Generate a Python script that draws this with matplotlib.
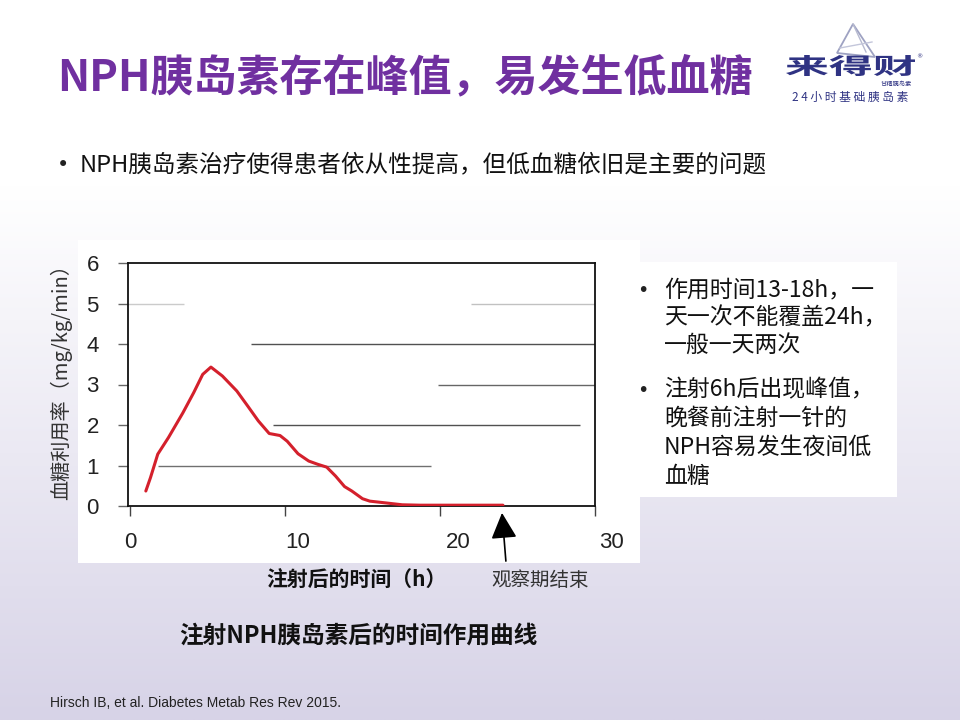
import numpy as np
import matplotlib
matplotlib.use("Agg")
import matplotlib.pyplot as plt
from matplotlib.patches import Rectangle, Polygon, PathPatch
from matplotlib.transforms import ScaledTranslation, Affine2D
from matplotlib.textpath import TextPath
from matplotlib.font_manager import FontProperties

plt.rcParams['font.family'] = ['Noto Sans CJK SC', 'DejaVu Sans']

# ---------------- data ----------------
hours = [1.02, 1.32, 1.79, 2.48, 3.41, 4.11, 4.69, 5.22, 5.96, 6.89, 7.59, 8.28,
         8.98, 9.68, 10.14, 10.84, 11.53, 12.11, 12.69, 13.26, 13.84, 14.31,
         15.0, 15.47, 16.41, 17.56, 18.72, 19.88, 24.06]
rate = [0.37, 0.70, 1.28, 1.69, 2.30, 2.80, 3.25, 3.43, 3.21, 2.84, 2.47, 2.10,
        1.79, 1.74, 1.60, 1.29, 1.11, 1.03, 0.96, 0.74, 0.48, 0.37,
        0.18, 0.12, 0.08, 0.03, 0.02, 0.02, 0.02]
x_ticks = [0, 10, 20, 30]
x_tick_labels = ['0', '10', '20', '30']
y_ticks = [0, 1, 2, 3, 4, 5, 6]
y_tick_labels = ['0', '1', '2', '3', '4', '5', '6']
obs_end = 24.0

title = 'NPH胰岛素存在峰值，易发生低血糖'
subtitle = 'NPH胰岛素治疗使得患者依从性提高，但低血糖依旧是主要的问题'
y_label = '血糖利用率（mg/kg/min）'
x_label = '注射后的时间（h）'
obs_label = '观察期结束'
caption = '注射NPH胰岛素后的时间作用曲线'
reference = 'Hirsch IB, et al. Diabetes Metab Res Rev 2015.'
bullet1 = ['作用时间13-18h，一', '天一次不能覆盖24h，', '一般一天两次']
bullet2 = ['注射6h后出现峰值，', '晚餐前注射一针的', 'NPH容易发生夜间低', '血糖']
logo_name = '来得财'
logo_sub = '甘精胰岛素'
logo_tag = '2 4 小 时 基 础 胰 岛 素'

# faded partial gridlines of the scanned chart (style)
grid_segments = [(5, -0.1, 3.5, 0.25), (5, 22, 30, 0.3), (4, 7.8, 30, 0.85),
                 (3, 19.9, 30, 0.75), (2, 9.2, 29, 0.85), (1, 1.8, 19.4, 0.7)]

W, H = 960, 720
fig = plt.figure(figsize=(9.6, 7.2), dpi=100)

# ---------------- background ----------------
bg = fig.add_axes([0, 0, 1, 1], zorder=-10)
bg.set_xlim(0, 1)
bg.set_ylim(0, 1)
bg.axis('off')
rows = np.linspace(0, 1, 400)  # top -> bottom
t = np.clip((rows - 0.26) / 0.74, 0, 1)
top_c = np.array([1.0, 1.0, 1.0])
bot_c = np.array([0xd7, 0xd3, 0xe7]) / 255.0
grad = top_c[None, :] * (1 - t[:, None]) + bot_c[None, :] * t[:, None]
grad = np.repeat(grad[:, None, :], 2, axis=1)
bg.imshow(grad, extent=[0, 1, 0, 1], aspect='auto', origin='upper', zorder=0)


def px(x, y):
    return x / W, 1 - y / H


# chart image white area
bg.add_patch(Rectangle(px(78, 563), 562 / W, 323 / H, facecolor='white',
                       edgecolor='none', zorder=1))
# right text box
bg.add_patch(Rectangle(px(600, 497), 297 / W, 235 / H, facecolor='white',
                       edgecolor='none', zorder=2))

# logo triangle
navy = '#2f3383'
tri = [px(853, 24), px(837, 53), px(875, 57)]
bg.add_patch(Polygon(tri, closed=True, fill=False, edgecolor='#9ea2c2', lw=1.3, zorder=3))
bg.plot([tri[0][0], px(866, 52)[0]], [tri[0][1], px(866, 52)[1]], color='#b7bad0',
        lw=1, zorder=3)
bg.plot([px(840, 48)[0], px(872, 42)[0]], [px(840, 48)[1], px(872, 42)[1]],
        color='#c3c6da', lw=1, zorder=3)

# stretched logo wordmark
fp = FontProperties(family='Noto Sans CJK SC', weight='bold')
tp = TextPath((0, 0), logo_name, size=1, prop=fp)
ext = tp.get_extents()
tr = (Affine2D().translate(-ext.x0, -ext.y0)
      .scale((129 / W) / ext.width, (21 / H) / ext.height)
      .translate(786 / W, 1 - 76 / H))
bg.add_patch(PathPatch(tr.transform_path(tp), facecolor=navy, edgecolor='none', zorder=4))

# ---------------- chart ----------------
ax = fig.add_axes([128 / W, 1 - 506 / H, 467 / W, 243 / H])
ax.set_facecolor('none')
ax.set_xlim(-0.13, 30)
ax.set_ylim(0, 6)

for yv, x0, x1, a in grid_segments:
    ax.hlines(yv, x0, x1, color='#333333', lw=1.0, alpha=a, zorder=1)

ax.plot(hours, rate, color='#d4202c', lw=2.2, zorder=3, solid_capstyle='round')

for s in ax.spines.values():
    s.set_color('#111111')
    s.set_linewidth(1.3)

ax.set_xticks(x_ticks)
ax.set_xticklabels(x_tick_labels, family='Liberation Sans', fontsize=16, color='#222222')
ax.set_yticks(y_ticks)
ax.set_yticklabels(y_tick_labels, family='Liberation Sans', fontsize=16, color='#222222')
ax.tick_params(axis='x', direction='out', length=7, width=1, color='#444444', pad=12)
ax.tick_params(axis='y', direction='out', length=7, width=1, color='#666666', pad=14)

# scanned label offsets
for lab, dx in zip(ax.get_xticklabels(), [0, 13, 18, 16]):
    lab.set_transform(lab.get_transform() + ScaledTranslation(dx / 100, 0, fig.dpi_scale_trans))

ax.annotate('', xy=(obs_end, -0.17), xytext=(obs_end + 0.25, -1.36),
            xycoords='data', textcoords='data', annotation_clip=False,
            arrowprops=dict(arrowstyle='-|>,head_length=0.8,head_width=0.4',
                            mutation_scale=20, color='black', lw=1.2,
                            shrinkA=0, shrinkB=0))

# ---------------- texts ----------------
fig.text(*px(57, 77), title, fontsize=31, fontweight='heavy', color='#7030a0',
         ha='left', va='center')
fig.text(*px(57, 165), '•', fontsize=15, color='#222222', ha='left', va='center',
         family='DejaVu Sans')
fig.text(*px(80, 165), subtitle, fontsize=17, color='#111111', ha='left', va='center')

fig.text(*px(61, 377), y_label, rotation=90, fontsize=14.5, color='#333333',
         ha='center', va='center')
fig.text(*px(356, 580), x_label, fontsize=15, fontweight='bold', color='#111111',
         ha='center', va='center')
fig.text(*px(540, 580), obs_label, fontsize=14, color='#333333',
         ha='center', va='center')
fig.text(*px(358, 636), caption, fontsize=17, fontweight='bold', color='#111111',
         ha='center', va='center')
fig.text(*px(50, 703), reference, fontsize=10, color='#222222', ha='left',
         va='center', family=['Liberation Sans Narrow', 'Liberation Sans'])

# right box bullets
for lines, ys in ((bullet1, [290, 318, 346]), (bullet2, [390, 418, 447, 476])):
    fig.text(*px(637, ys[0]), '•', fontsize=14, color='#222222', ha='left',
             va='center', family='DejaVu Sans')
    for line, yy in zip(lines, ys):
        fig.text(*px(664, yy), line, fontsize=16.5, color='#111111', ha='left', va='center')

# logo text
fig.text(*px(919, 57), '®', fontsize=4.5, color=navy, ha='center', va='center',
         family='DejaVu Sans')
fig.text(*px(912, 84), logo_sub, fontsize=4.5, color=navy, ha='right', va='center')
fig.text(*px(850, 97), logo_tag, fontsize=8.5, color=navy,
         ha='center', va='center', fontweight='medium')

fig.savefig('out.png', dpi=100)
